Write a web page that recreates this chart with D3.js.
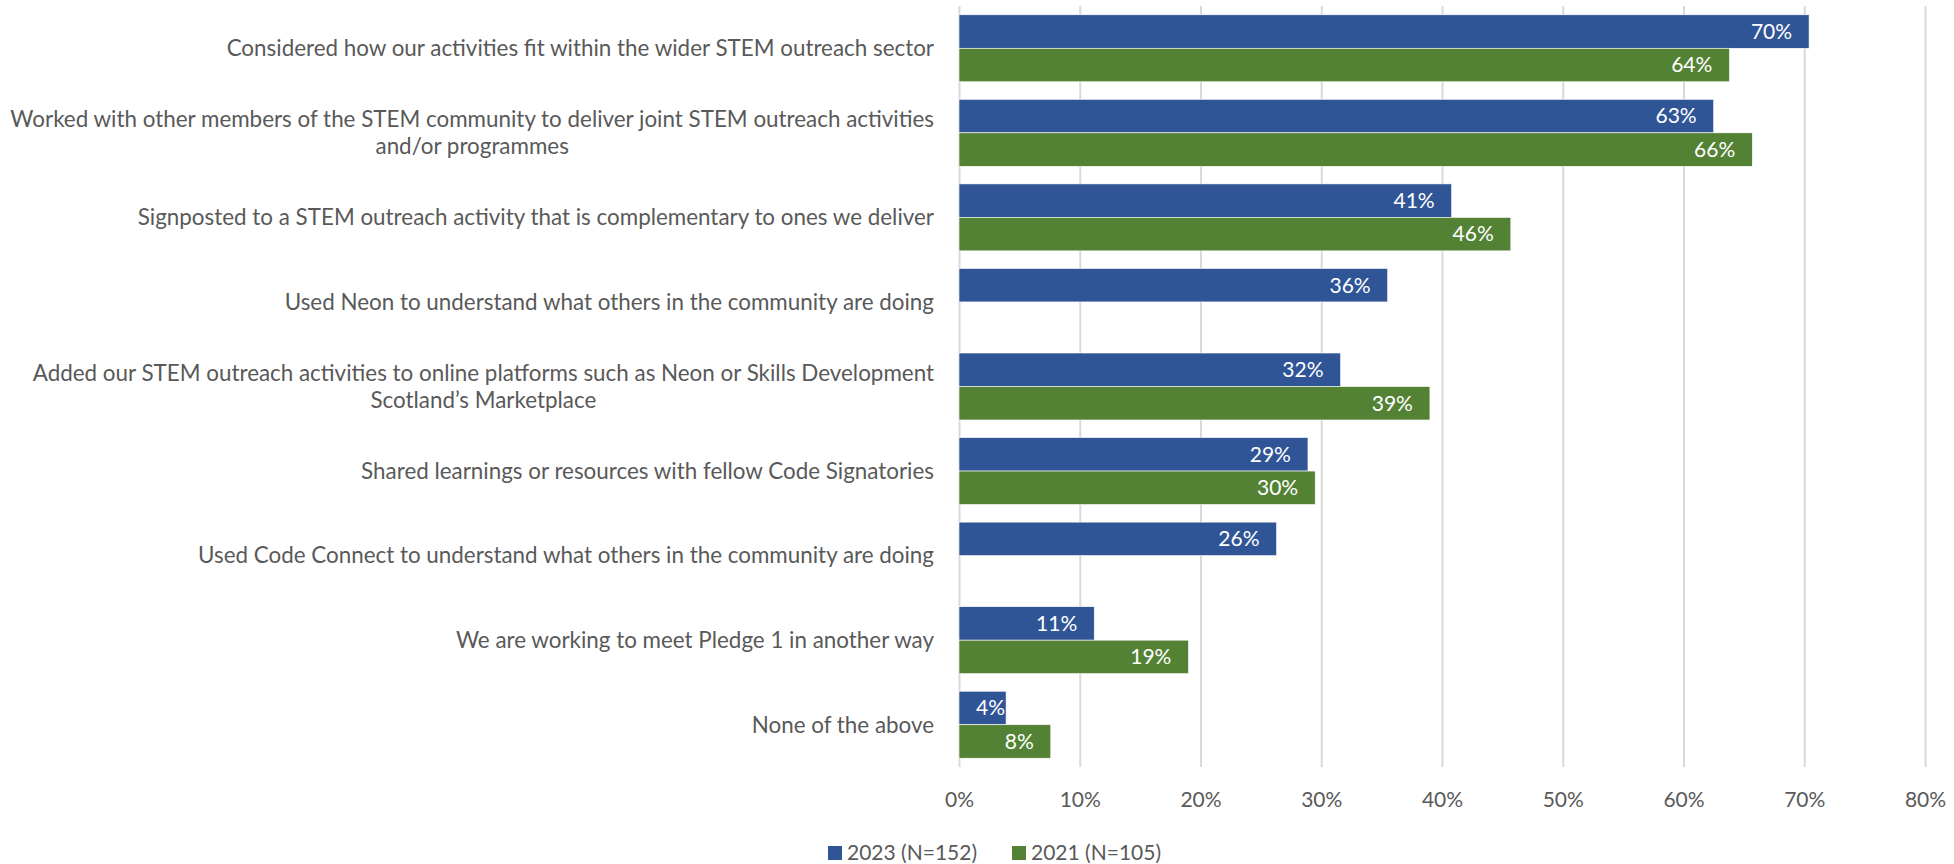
<!DOCTYPE html>
<html>
<head>
<meta charset="utf-8">
<script src="https://cdn.jsdelivr.net/npm/d3@7"></script>
<style>
  body { margin: 0; background: #fff; }
  text { font-family: Lato, "Open Sans", sans-serif; }
</style>
</head>
<body>
<div id="chart"></div>
<script>
// categories top to bottom, "\n" marks where the label wraps
const categories = [
    "Considered how our activities fit within the wider STEM outreach sector",
    "Worked with other members of the STEM community to deliver joint STEM outreach activities\nand/or programmes",
    "Signposted to a STEM outreach activity that is complementary to ones we deliver",
    "Used Neon to understand what others in the community are doing",
    "Added our STEM outreach activities to online platforms such as Neon or Skills Development\nScotland\u2019s Marketplace",
    "Shared learnings or resources with fellow Code Signatories",
    "Used Code Connect to understand what others in the community are doing",
    "We are working to meet Pledge 1 in another way",
    "None of the above"
];
const seriesNames = ["2023 (N=152)", "2021 (N=105)"];
const values2023 = [70.4, 62.5, 40.8, 35.5, 31.6, 28.9, 26.3, 11.2, 3.9];
const values2021 = [63.8, 65.7, 45.7, null, 39.0, 29.5, null, 19.0, 7.6];
const tickValues = [0, 10, 20, 30, 40, 50, 60, 70, 80];
const colors = ["#2F5597", "#548235"];

const W = 1954, H = 864;
const plot = { left: 959, right: 1925, top: 6, bottom: 767 };
const fontSize = 21;
const catFontSize = 22.4;
const textColor = "#595959";

const svg = d3.select("#chart")
    .append("svg")
    .attr("width", W)
    .attr("height", H);

const x = d3.scaleLinear()
    .domain([0, 80])
    .range([plot.left, plot.right]);

const y = d3.scaleBand()
    .domain(categories)
    .range([plot.top, plot.bottom])
    .paddingInner(0.208)
    .paddingOuter(0.104);

const ySub = d3.scaleBand()
    .domain(seriesNames)
    .range([0, y.bandwidth()]);

// gridlines
const grid = svg.append("g")
    .attr("transform", `translate(0, ${plot.bottom})`)
    .call(d3.axisBottom(x).tickValues(tickValues).tickSize(-(plot.bottom - plot.top)).tickFormat(""));
grid.select(".domain").remove();
grid.selectAll("line").attr("stroke", "#d9d9d9").attr("stroke-width", 2);

// tick labels
const xAxis = svg.append("g")
    .attr("transform", `translate(0, ${plot.bottom})`)
    .call(d3.axisBottom(x).tickValues(tickValues).tickSize(0).tickPadding(0).tickFormat(d => d + "%"));
xAxis.select(".domain").remove();
xAxis.selectAll("text")
    .attr("y", 40)
    .attr("dy", null)
    .attr("fill", textColor)
    .style("font-size", fontSize + "px");

// bars
const rows = categories.map((c, i) => ({ cat: c, vals: [values2023[i], values2021[i]] }));
const bars = [];
rows.forEach(r => r.vals.forEach((v, j) => {
    if (v !== null) bars.push({ cat: r.cat, series: seriesNames[j], value: v, color: colors[j] });
}));

svg.selectAll(".bar")
    .data(bars)
    .enter()
    .append("rect")
    .attr("class", "bar")
    .attr("x", x(0))
    .attr("y", d => y(d.cat) + ySub(d.series))
    .attr("width", d => x(d.value) - x(0))
    .attr("height", ySub.bandwidth())
    .attr("fill", d => d.color)
    .attr("stroke", "#ffffff")
    .attr("stroke-width", 0.6);

// data labels (inside end, pushed right when bar is short)
svg.selectAll(".dlabel")
    .data(bars)
    .enter()
    .append("text")
    .attr("class", "dlabel")
    .attr("y", d => y(d.cat) + ySub(d.series) + ySub.bandwidth() / 2)
    .attr("dy", "0.35em")
    .attr("text-anchor", "end")
    .attr("fill", "#ffffff")
    .style("font-size", fontSize + "px")
    .text(d => Math.round(d.value) + "%")
    .attr("x", function (d) {
        const w = this.getComputedTextLength();
        return Math.max(x(d.value) - 17, x(0) + 17 + w);
    });

// category labels: block right-aligned, wrapped lines centred on each other
const labelRight = 934;
const lineGap = 26.6;
categories.forEach(c => {
    const lines = c.split("\n");
    const cy = y(c) + y.bandwidth() / 2;
    const g = svg.append("g");
    const texts = lines.map((line, k) => g.append("text")
        .attr("y", cy + (k - (lines.length - 1) / 2) * lineGap)
        .attr("dy", "0.35em")
        .attr("fill", textColor)
        .style("font-size", catFontSize + "px")
        .text(line));
    if (lines.length === 1) {
        texts[0].attr("x", labelRight).attr("text-anchor", "end");
    } else {
        const maxW = d3.max(texts, t => t.node().getComputedTextLength());
        texts.forEach(t => t.attr("x", labelRight - maxW / 2).attr("text-anchor", "middle"));
    }
});

// legend
const legendX = [828, 1012];
const legend = svg.selectAll(".legend")
    .data(seriesNames)
    .enter()
    .append("g")
    .attr("class", "legend")
    .attr("transform", (d, i) => `translate(${legendX[i]}, 853)`);
legend.append("rect")
    .attr("x", 0)
    .attr("y", -7)
    .attr("width", 14)
    .attr("height", 14)
    .attr("fill", (d, i) => colors[i]);
legend.append("text")
    .attr("x", 19)
    .attr("dy", "0.35em")
    .attr("fill", textColor)
    .style("font-size", fontSize + "px")
    .text(d => d);
</script>
</body>
</html>
